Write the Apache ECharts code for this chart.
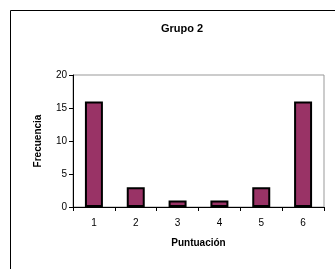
<!DOCTYPE html>
<html>
<head>
<meta charset="utf-8">
<script src="https://cdn.jsdelivr.net/npm/echarts@6/dist/echarts.min.js"></script>
<style>
  html, body { margin: 0; padding: 0; background: #fff; }
  #chart { width: 335px; height: 269px; }
</style>
</head>
<body>
<div id="chart"></div>
<script>
var categories = ['1', '2', '3', '4', '5', '6'];
var frecuencia = [16, 3, 1, 1, 3, 16];
var yTicks = [0, 5, 10, 15, 20];

var chart = echarts.init(document.getElementById('chart'));
var font = 'Liberation Sans, Arial, sans-serif';

var option = {
    animation: false,
    backgroundColor: '#fff',
    title: {
        text: 'Grupo 2',
        left: 177,
        top: 18,
        textAlign: 'center',
        textStyle: { fontFamily: font, fontSize: 11, fontWeight: 'bold', color: '#000' }
    },
    graphic: [{
        type: 'rect',
        shape: { x: 10.5, y: 10.5, width: 340, height: 280 },
        style: { fill: 'none', stroke: '#000', lineWidth: 1 },
        silent: true
    }],
    grid: {
        left: 73, right: 11, top: 75, bottom: 62,
        show: true,
        borderColor: '#999',
        borderWidth: 1
    },
    xAxis: {
        type: 'category',
        data: categories,
        name: 'Puntuación',
        nameLocation: 'middle',
        nameGap: 31,
        nameTextStyle: { fontFamily: font, fontSize: 10, fontWeight: 'bold', color: '#000' },
        axisLine: { lineStyle: { color: '#000', width: 1 } },
        axisTick: { show: true, inside: false, length: 4, lineStyle: { color: '#000' } },
        axisLabel: { fontFamily: font, fontSize: 10, color: '#000', margin: 11 },
        splitLine: { show: false }
    },
    yAxis: {
        type: 'value',
        min: yTicks[0],
        max: yTicks[yTicks.length - 1],
        interval: 5,
        name: 'Frecuencia',
        nameLocation: 'middle',
        nameGap: 30,
        nameRotate: 90,
        nameTextStyle: { fontFamily: font, fontSize: 10, fontWeight: 'bold', color: '#000' },
        axisLine: { show: true, lineStyle: { color: '#000', width: 1 } },
        axisTick: { show: true, inside: false, length: 4, lineStyle: { color: '#000' } },
        axisLabel: { fontFamily: font, fontSize: 10, color: '#000', margin: 6 },
        splitLine: { show: false }
    },
    series: [{
        type: 'bar',
        data: frecuencia,
        barWidth: '43%',
        itemStyle: { color: '#993366', borderColor: '#000', borderWidth: 2 }
    }]
};

chart.setOption(option);
</script>
</body>
</html>
